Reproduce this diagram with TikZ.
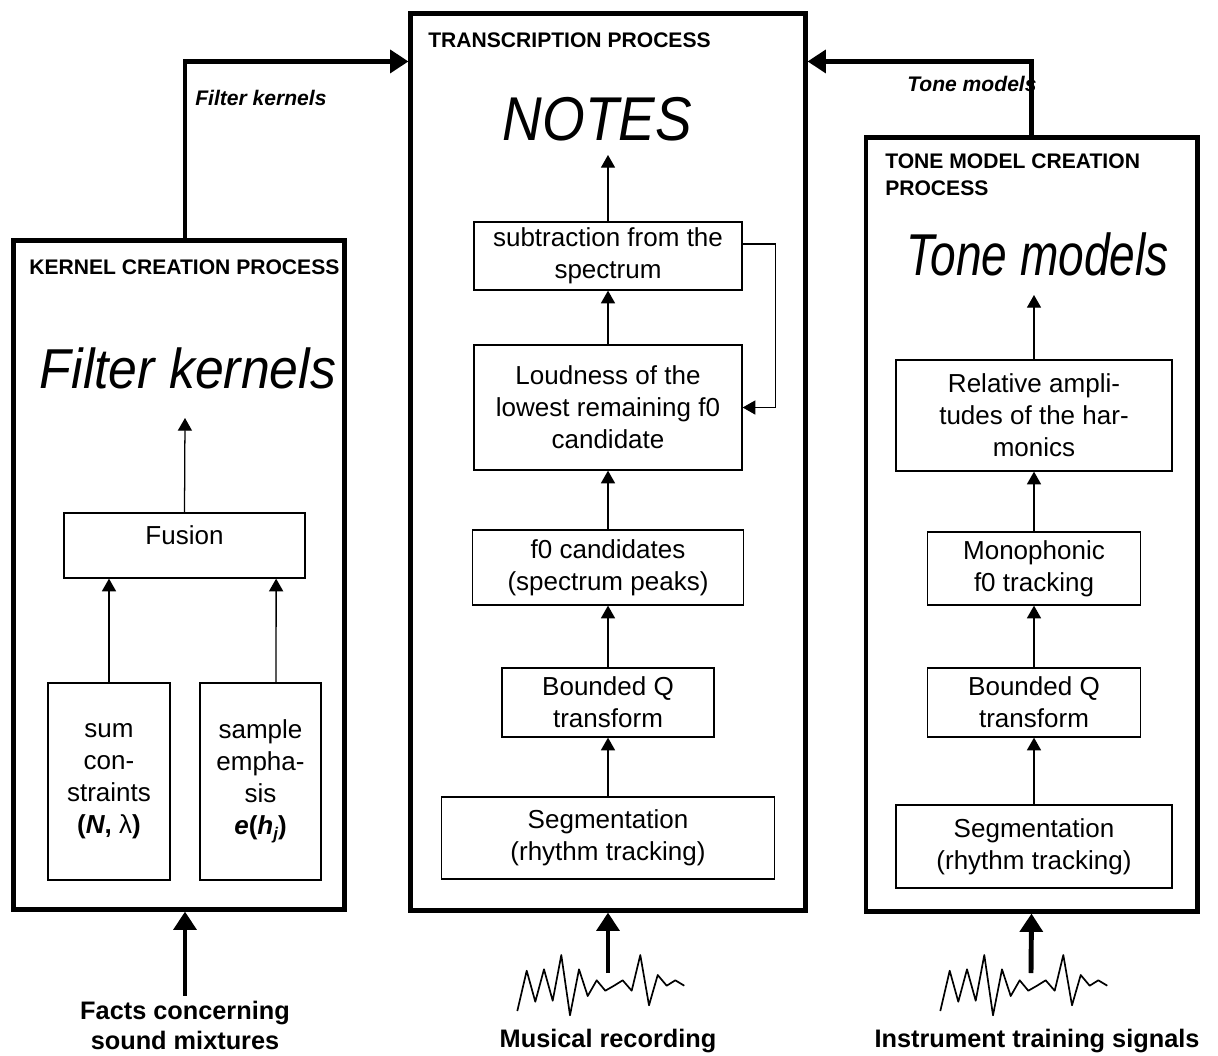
\documentclass[tikz,border=0pt]{standalone}
\usepackage{fontspec}
\setmainfont{Liberation Sans}
\usepackage{tikz}
\usetikzlibrary{arrows.meta}
\tikzstyle{process} = [
  draw,
  rectangle,
  line width=3.5pt,
]
\tikzstyle{stage} = [
  draw,
  rectangle,
  line width=0.9pt,
  align=center,
  font=\fontsize{18.5}{22.8}\selectfont,
]
\tikzstyle{heading} = [
  inner sep=0pt,
  align=left,
  font=\bfseries\fontsize{15}{19.2}\selectfont,
]
\tikzstyle{bigtitle} = [
  inner sep=0pt,
  anchor=base,
]
\tikzstyle{feed} = [
  inner sep=0pt,
  anchor=base west,
  font=\bfseries\itshape\fontsize{15}{18}\selectfont,
]
\tikzstyle{source} = [
  align=center,
  font=\bfseries\fontsize{18}{21.3}\selectfont,
]
\tikzstyle{flow} = [
  line width=0.9pt,
  >={Triangle[length=9pt,width=10pt]},
  ->,
]
\tikzstyle{bigflow} = [
  line width=3.5pt,
  >={Triangle[length=13pt,width=16pt]},
  ->,
]
\tikzstyle{wave} = [
  line width=1.2pt,
  line join=round,
]
\newcommand{\signalwave}[1]{%
  \draw[wave, shift={(#1,0)}] (-90.7,1011) -- (-81.3,970.7) -- (-72.7,1001.7)
    -- (-64,969.3) -- (-55.3,1000.7) -- (-46.7,955) -- (-38,1015.3)
    -- (-29,969.3) -- (-20.3,996) -- (-11.3,980.3) -- (-2.7,990.7)
    -- (6,985.7) -- (14.7,980.3) -- (23.7,990.7) -- (32.3,955)
    -- (41,1005.3) -- (49.7,975) -- (58.7,985.7) -- (67.3,980.3)
    -- (76.3,985.7);
}

\begin{document}
\begin{tikzpicture}[
    auto,
    x=0.025cm,
    y=-0.025cm,
  ]
  \useasboundingbox (0,0) rectangle (1218,1055);
  % the three process frames
  \node[
    process,
    minimum width=8.275cm,
    minimum height=16.7cm,
  ](kernel) at (179,575){};
  \node[
    process,
    minimum width=9.85cm,
    minimum height=22.4cm,
  ](trans) at (608,462){};
  \node[
    process,
    minimum width=8.275cm,
    minimum height=19.325cm,
  ](tone) at (1031.5,524.5){};
  \node[heading, anchor=base west](kernelhead) at (29,274){KERNEL CREATION PROCESS};
  \node[heading, anchor=base west](transhead) at (428,47){TRANSCRIPTION PROCESS};
  \node[heading, anchor=north west](tonehead) at (885,153){TONE MODEL CREATION\\PROCESS};
  % kernel creation
  \node[
    bigtitle,
    font=\itshape\fontsize{40}{48}\selectfont,
  ](kerneltitle) at (188,388){\scalebox{0.92}[1]{Filter kernels}};
  \coordinate (kerneltip) at (185,418);
  \node[
    stage,
    minimum width=6.025cm,
    minimum height=1.625cm,
    text depth=15pt,
  ](fusion) at (184.5,545.5){Fusion};
  \node[
    stage,
    minimum width=3.05cm,
    minimum height=4.925cm,
  ](sum) at (109,781.5){sum\\con-\\straints\\\textbf{(\textit{N}, }λ\textbf{)}};
  \node[
    stage,
    minimum width=3.025cm,
    minimum height=4.925cm,
  ](sample) at (260.5,781.5){sample\\empha-\\sis\\\textbf{\textit{e}(\textit{h}\raisebox{-0.35ex}{\fontsize{12}{12}\selectfont\itshape j})}};
  \path [flow] (sum.north) edge (sum.north |- fusion.south);
  \path [flow] ([xshift=0.39cm]sample.north) edge ([xshift=2.29cm]fusion.south);
  \path [flow] (fusion.north) edge (kerneltip);
  % transcription
  \node[
    bigtitle,
    font=\itshape\fontsize{44}{50}\selectfont,
  ](notes) at (597.5,140){\scalebox{0.887}[1]{NOTES}};
  \coordinate (notestip) at (608,155);
  \node[
    stage,
    minimum width=6.7cm,
    minimum height=1.7cm,
  ](subtr) at (608,256){subtraction from the\\spectrum};
  \node[
    stage,
    minimum width=6.7cm,
    minimum height=3.125cm,
  ](loud) at (608,407.5){Loudness of the\\lowest remaining f0\\candidate};
  \node[
    stage,
    minimum width=6.775cm,
    minimum height=1.875cm,
  ](cand) at (608,567.5){f0 candidates\\(spectrum peaks)};
  \node[
    stage,
    minimum width=5.3cm,
    minimum height=1.725cm,
  ](transbq) at (608,702.5){Bounded Q\\transform};
  \node[
    stage,
    minimum width=8.325cm,
    minimum height=2.05cm,
  ](transseg) at (608,838){Segmentation\\(rhythm tracking)};
  \path [flow] (transseg) edge (transbq);
  \path [flow] (transbq) edge (cand);
  \path [flow] (cand) edge (loud);
  \path [flow] (loud) edge (subtr);
  \path [flow] (subtr) edge (notestip);
  \draw [flow] ([yshift=0.3cm]subtr.east) -- ++(33,0) |- (loud.east);
  % tone model creation
  \node[
    bigtitle,
    font=\itshape\fontsize{42}{48}\selectfont,
  ](tonetitle) at (1037.5,275){\scalebox{0.78}[1]{Tone models}};
  \coordinate (tonetip) at (1034,295);
  \node[
    stage,
    minimum width=6.9cm,
    minimum height=2.775cm,
  ](rel) at (1034,415.5){Relative ampli-\\tudes of the har-\\monics};
  \node[
    stage,
    minimum width=5.325cm,
    minimum height=1.825cm,
  ](mono) at (1034,568.5){Monophonic\\f0 tracking};
  \node[
    stage,
    minimum width=5.325cm,
    minimum height=1.725cm,
  ](tonebq) at (1034,702.5){Bounded Q\\transform};
  \node[
    stage,
    minimum width=6.9cm,
    minimum height=2.075cm,
  ](toneseg) at (1034,846.5){Segmentation\\(rhythm tracking)};
  \path [flow] (toneseg) edge (tonebq);
  \path [flow] (tonebq) edge (mono);
  \path [flow] (mono) edge (rel);
  \path [flow] (rel) edge (tonetip);
  % links between the processes
  \node[feed](kernelfeed) at (195,105){Filter kernels};
  \node[feed](tonefeed) at (907,91){Tone models};
  \draw [bigflow] ([xshift=0.15cm]kernel.north) |- ([yshift=-1.25cm]trans.north west);
  \draw [bigflow] (tone.north) |- ([yshift=-1.25cm]trans.north east);
  % inputs
  \node[source](facts) at (185,1025){Facts concerning\\sound mixtures};
  \node[source, anchor=base](rec) at (608,1047){Musical recording};
  \node[source, anchor=base](inst) at (1037,1047){Instrument training signals};
  \signalwave{608}
  \signalwave{1031}
  \coordinate (recin) at (608,973);
  \coordinate (instin) at (1031,973);
  \draw [bigflow] (facts.north) -- (facts.north |- kernel.south);
  \draw [bigflow] (recin) -- (trans.south);
  \draw [bigflow] (instin) -- (tone.south);
\end{tikzpicture}
\end{document}
